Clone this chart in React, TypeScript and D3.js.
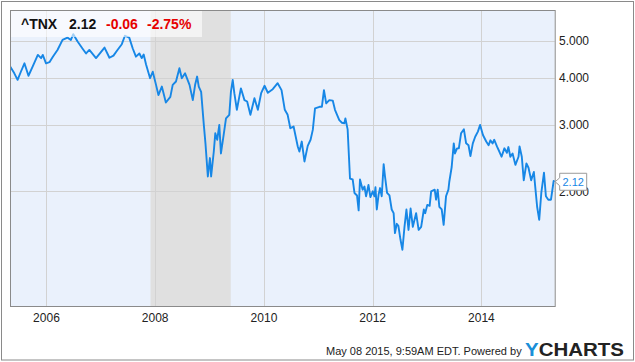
import React from "react";
import * as d3 from "d3";

const dates: string[] = [
  "2005-05-03","2005-05-30","2005-06-21","2005-07-13","2005-08-06","2005-09-02","2005-09-30","2005-11-04","2005-11-26","2005-12-07","2005-12-29",
  "2006-01-21","2006-02-13","2006-03-16","2006-04-19","2006-05-22","2006-06-14","2006-06-30","2006-07-29","2006-09-02","2006-09-24","2006-10-16","2006-11-30",
  "2007-01-26","2007-02-28","2007-03-27","2007-04-23","2007-05-22","2007-06-12","2007-07-11","2007-08-03","2007-08-25","2007-09-17","2007-10-03","2007-10-16","2007-11-01","2007-11-28","2007-12-16",
  "2008-01-07","2008-01-23","2008-02-15","2008-03-13","2008-04-12","2008-04-28","2008-05-20","2008-06-12","2008-06-28","2008-07-20","2008-08-19","2008-09-10","2008-09-26","2008-10-09","2008-10-20","2008-11-05","2008-11-23","2008-12-04","2008-12-20",
  "2009-01-03","2009-01-11","2009-01-29","2009-02-08","2009-02-21","2009-03-07","2009-03-18","2009-04-05","2009-04-21","2009-05-13","2009-05-24","2009-06-05","2009-06-16","2009-07-03","2009-07-30","2009-08-23","2009-09-10","2009-10-02","2009-10-29","2009-11-21","2009-12-13",
  "2010-01-05","2010-01-27","2010-03-01","2010-04-03","2010-04-29","2010-05-21","2010-06-09","2010-06-27","2010-07-19","2010-08-16","2010-08-27","2010-09-12","2010-09-30","2010-10-22","2010-11-10","2010-11-25","2010-12-10",
  "2011-01-09","2011-01-25","2011-02-08","2011-02-23","2011-03-16","2011-04-08","2011-04-23","2011-05-22","2011-06-09","2011-06-25","2011-07-02","2011-07-17","2011-08-02","2011-08-20","2011-09-01","2011-09-18","2011-09-29","2011-10-08","2011-10-26","2011-11-07","2011-11-18","2011-12-04","2011-12-17",
  "2012-01-02","2012-01-13","2012-01-20","2012-01-29","2012-02-10","2012-02-20","2012-03-02","2012-03-15","2012-03-24","2012-04-07","2012-04-23","2012-05-08","2012-05-21","2012-05-30","2012-06-11","2012-06-22","2012-07-06","2012-07-19","2012-08-02","2012-08-15","2012-08-29","2012-09-12","2012-09-27","2012-10-19","2012-11-05","2012-11-22","2012-12-10","2012-12-19",
  "2013-01-02","2013-01-18","2013-01-28","2013-02-21","2013-03-02","2013-03-13","2013-03-24","2013-04-09","2013-04-22","2013-05-08","2013-05-24","2013-05-30","2013-06-15","2013-06-29","2013-07-07","2013-07-21","2013-08-02","2013-08-17","2013-09-05","2013-09-20","2013-10-06","2013-10-19","2013-11-04","2013-11-20","2013-12-08","2013-12-23",
  "2014-01-11","2014-02-02","2014-02-18","2014-03-02","2014-03-17","2014-03-28","2014-04-15","2014-05-01","2014-05-16","2014-06-04","2014-06-21","2014-07-01","2014-07-14","2014-07-29","2014-08-17","2014-09-07","2014-09-14","2014-09-29","2014-10-12","2014-10-30","2014-11-13","2014-12-01","2014-12-19","2014-12-27",
  "2015-01-10","2015-01-24","2015-02-07","2015-02-25","2015-03-10","2015-03-26","2015-04-13","2015-05-01","2015-05-08",
];

const yields: number[] = [
  4.28,4.11,3.95,4.15,4.37,4.05,4.28,4.60,4.51,4.60,4.37,
  4.40,4.55,4.74,5.04,5.11,5.04,5.22,4.99,4.77,4.64,4.74,4.51,
  4.81,4.52,4.58,4.74,4.91,5.17,5.11,4.79,4.55,4.64,4.51,4.61,4.34,3.99,4.15,
  3.83,3.60,3.79,3.44,3.56,3.83,3.91,4.24,3.99,4.11,3.83,3.49,3.84,4.03,3.79,3.67,3.00,2.68,2.19,
  2.45,2.19,2.55,2.85,2.74,3.00,2.52,2.82,3.12,3.19,3.67,3.95,3.64,3.29,3.75,3.49,3.46,3.19,3.53,3.29,3.64,
  3.81,3.65,3.73,3.87,3.71,3.29,3.19,2.94,2.97,2.63,2.55,2.71,2.40,2.64,2.74,2.91,3.32,
  3.35,3.35,3.71,3.42,3.49,3.48,3.29,3.09,3.04,3.03,3.12,2.92,2.16,2.15,1.98,1.95,1.78,2.15,2.02,2.06,1.94,2.08,1.93,
  2.00,1.94,2.05,1.79,1.96,2.04,1.94,2.36,2.19,1.98,1.95,1.79,1.75,1.55,1.64,1.62,1.49,1.40,1.61,1.79,1.58,1.80,1.61,1.75,1.58,1.61,1.79,1.75,
  1.84,1.83,2.00,2.02,1.90,2.02,1.82,1.79,1.63,1.94,2.02,2.12,2.32,2.68,2.52,2.60,2.60,2.85,2.92,2.68,2.65,2.48,2.68,2.79,2.88,3.00,
  2.82,2.71,2.65,2.73,2.68,2.74,2.63,2.55,2.47,2.60,2.53,2.62,2.47,2.52,2.35,2.47,2.63,2.47,2.14,2.37,2.31,2.14,2.25,2.08,
  1.82,1.68,1.98,2.24,1.94,1.90,1.90,2.13,2.12,
];

const yTicks: number[] = [2, 3, 4, 5];
const xTickYears: number[] = [2006, 2008, 2010, 2012, 2014];
const recessions: [string, string][] = [["2007-12-01", "2009-05-23"]];
const domainStart = "2005-05-01";
const domainEnd = "2015-05-08";
const ticker = "^TNX";
const lastValue = "2.12";
const change = "-0.06";
const changePct = "-2.75%";
const footerText = "May 08 2015, 9:59AM EDT. Powered by";

const W = 635, H = 362;
const L = 10, T = 10, R = 554.7, B = 306;
const parse = d3.timeParse("%Y-%m-%d");

export default function App() {
  const x = d3.scaleTime().domain([parse(domainStart)!, parse(domainEnd)!]).range([L, R]);
  const y = d3.scaleLog().domain([0.993, 6.05]).range([B, T]);
  const data = dates.map((d, i) => ({ date: parse(d)!, v: yields[i] }));
  const line = d3.line<{ date: Date; v: number }>().x(d => x(d.date)).y(d => y(d.v));
  const lineColor = "#1787e6";
  const last = data[data.length - 1];
  const ly = y(last.v);
  const bx = R + 5;

  return (
    <svg width={W} height={H} style={{ position: "absolute", left: 0, top: 0, fontFamily: "Arial, 'Liberation Sans', sans-serif" }}>
      <rect x={0} y={0} width={W} height={H} fill="#fff" />
      <rect x={1.5} y={1.5} width={632} height={358.5} fill="#fff" stroke="#8a8a8a" strokeWidth={1} />
      <rect x={L} y={T} width={R - L} height={B - T} fill="#eaf1fc" />
      {recessions.map(([s, e], i) => (
        <rect key={i} x={x(parse(s)!)} y={T} width={x(parse(e)!) - x(parse(s)!)} height={B - T} fill="#e0e0e0" />
      ))}
      {yTicks.map(t => (
        <line key={t} x1={L} x2={R} y1={Math.round(y(t)) + 0.5} y2={Math.round(y(t)) + 0.5} stroke="#d2d2d2" strokeWidth={1} />
      ))}
      {xTickYears.map(yr => {
        const xx = Math.round(x(new Date(yr, 0, 1))) + 0.5;
        return <line key={yr} x1={xx} x2={xx} y1={T} y2={B} stroke="#d2d2d2" strokeWidth={1} />;
      })}
      <clipPath id="plotclip">
        <rect x={L} y={T} width={R - L + 1} height={B - T} />
      </clipPath>
      <path d={line(data)!} fill="none" stroke={lineColor} strokeWidth={1.9} strokeLinejoin="round" clipPath="url(#plotclip)" />
      <rect x={L + 0.5} y={T + 0.5} width={R - L} height={B - T} fill="none" stroke="#8a8a8a" strokeWidth={1} />
      {/* header */}
      <rect x={L + 1} y={T + 1} width={191} height={26} fill="#ffffff" fillOpacity={0.6} />
      <text x={21} y={29} fontSize={14} fontWeight="bold" fill="#111">{ticker}</text>
      <text x={69} y={29} fontSize={14} fontWeight="bold" fill="#111">{lastValue}</text>
      <text x={106} y={29} fontSize={14} fontWeight="bold" fill="#e60000">{change}</text>
      <text x={147} y={29} fontSize={14} fontWeight="bold" fill="#e60000">{changePct}</text>
      {/* y tick labels */}
      {yTicks.map(t => (
        <text key={t} x={559} y={y(t)} dy="0.35em" fontSize={12} fill="#222">{d3.format(".3f")(t)}</text>
      ))}
      {/* x tick labels */}
      {xTickYears.map(yr => (
        <text key={yr} x={x(new Date(yr, 0, 1))} y={322} textAnchor="middle" fontSize={12} fill="#222">{yr}</text>
      ))}
      {/* last value callout */}
      <path d={`M${bx},${ly - 8.5} H${bx + 27} V${ly + 8.5} H${bx} V${ly + 4} L${R + 0.5},${ly} L${bx},${ly - 4} Z`} fill="#fff" stroke="#9a9a9a" strokeWidth={1} />
      <text x={bx + 13.5} y={ly} dy="0.35em" textAnchor="middle" fontSize={11} fill={lineColor}>{last.v.toFixed(2)}</text>
      {/* footer */}
      <text x={326} y={355} fontSize={11} fill="#222">{footerText}</text>
      <text x={525} y={356} fontSize={19} fontWeight="bold" fill="#222" textLength={99} lengthAdjust="spacingAndGlyphs">
        <tspan fill="#1a8fd8">Y</tspan>CHARTS
      </text>
    </svg>
  );
}
